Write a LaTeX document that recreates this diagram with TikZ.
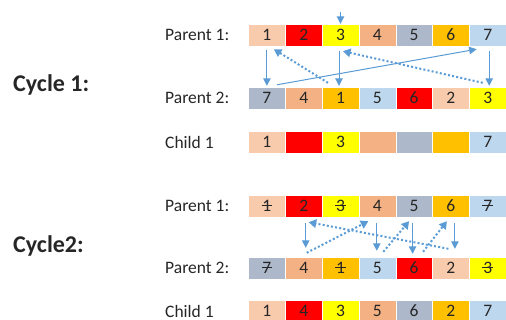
\documentclass[tikz,border=0pt]{standalone}
\usepackage{fontspec}
\setmainfont{Carlito}
\usetikzlibrary{arrows.meta}
\definecolor{cA}{HTML}{F8CBAD}
\definecolor{cB}{HTML}{FF0000}
\definecolor{cC}{HTML}{FFFF00}
\definecolor{cD}{HTML}{F4B183}
\definecolor{cE}{HTML}{ADB9CA}
\definecolor{cF}{HTML}{FFC000}
\definecolor{cG}{HTML}{BDD7EE}
\definecolor{arrowc}{HTML}{5B9BD5}
\definecolor{txt}{HTML}{262626}
\newcommand\strk[1]{\ooalign{#1\cr\hidewidth\rule[0.33em]{0.6em}{0.07em}\hidewidth\cr}}
\begin{document}
\begin{tikzpicture}[x=1pt,y=-1pt,
  every node/.style={text=txt, font=\fontsize{17.5}{20}\selectfont},
  cell/.style={draw=white, line width=0.4pt, minimum width=36.8pt, minimum height=22pt, inner sep=0pt, anchor=center},
  rowlabel/.style={anchor=west, inner sep=0pt},
  cyclabel/.style={anchor=west, inner sep=0pt, font=\fontsize{24}{28}\selectfont\bfseries},
  arr/.style={draw=arrowc, line width=1pt, -{Triangle[length=7.5pt,width=7.5pt]}},
  darr/.style={draw=arrowc, line width=2pt, dash pattern=on 2pt off 2.2pt, -{Triangle[length=7.5pt,width=8.5pt]}}]
\useasboundingbox (0,0) rectangle (506,320);
% cycle labels
\node[cyclabel] (cyc1) at (13,85) {Cycle 1:};
\node[cyclabel] (cyc2) at (13,246) {Cycle2:};
% row labels
\node[rowlabel] (l1) at (165,35) {Parent 1:};
\node[rowlabel] (l2) at (165,98) {Parent 2:};
\node[rowlabel] (l3) at (165,142) {Child 1};
\node[rowlabel] (l4) at (165,206) {Parent 1:};
\node[rowlabel] (l5) at (165,268) {Parent 2:};
\node[rowlabel] (l6) at (165,311) {Child 1};
% Cycle 1 rows
\foreach \i/\c/\t in {1/cA/1,2/cB/2,3/cC/3,4/cD/4,5/cE/5,6/cF/6,7/cG/7}
  \node[cell, fill=\c] (pa\i) at ({248.5+36.8*(\i-0.5)},35) {\t};
\foreach \i/\c/\t in {1/cE/7,2/cD/4,3/cF/1,4/cG/5,5/cB/6,6/cA/2,7/cC/3}
  \node[cell, fill=\c] (qa\i) at ({248.5+36.8*(\i-0.5)},98) {\t};
\foreach \i/\c/\t in {1/cA/1,2/cB/{},3/cC/3,4/cD/{},5/cE/{},6/cF/{},7/cG/7}
  \node[cell, fill=\c] (ra\i) at ({248.5+36.8*(\i-0.5)},142) {\t};
% Cycle 2 rows
\foreach \i/\c/\t in {1/cA/\strk{1},2/cB/2,3/cC/\strk{3},4/cD/4,5/cE/5,6/cF/6,7/cG/\strk{7}}
  \node[cell, fill=\c] (pb\i) at ({248.5+36.8*(\i-0.5)},206) {\t};
\foreach \i/\c/\t in {1/cE/\strk{7},2/cD/4,3/cF/\strk{1},4/cG/5,5/cB/6,6/cA/2,7/cC/\strk{3}}
  \node[cell, fill=\c] (qb\i) at ({248.5+36.8*(\i-0.5)},268) {\t};
\foreach \i/\c/\t in {1/cA/1,2/cB/4,3/cC/3,4/cD/5,5/cE/6,6/cF/2,7/cG/7}
  \node[cell, fill=\c] (rb\i) at ({248.5+36.8*(\i-0.5)},311) {\t};
% Cycle 1 arrows
\coordinate (start) at ([yshift=12pt]pa3.north);
\draw[arr] (start) -- (pa3.north);
\draw[arr] ([yshift=-4pt]pa1.south) -- ([yshift=1pt]qa1.north);
\draw[darr] ([xshift=-12.5pt,yshift=4pt]qa3.north) -- ([xshift=7pt,yshift=-3pt]pa1.south);
\draw[arr] ([xshift=-1.5pt,yshift=-5pt]pa3.south) -- ([xshift=-1.5pt,yshift=1pt]qa3.north);
\draw[arr] ([xshift=10pt,yshift=2pt]qa1.north) -- ([xshift=-11pt,yshift=-3pt]pa7.south);
\draw[darr] ([xshift=-5pt,yshift=4pt]qa7.north) -- ([xshift=2.5pt,yshift=-5pt]pa3.south);
\draw[arr] ([xshift=1.5pt,yshift=-5pt]pa7.south) -- ([xshift=1.5pt,yshift=1pt]qa7.north);
% Cycle 2 arrows
\draw[arr] ([xshift=2pt,yshift=-6pt]pb2.south) -- ([xshift=2pt,yshift=9pt]qb2.north);
\draw[darr] ([xshift=3pt,yshift=4pt]qb2.north) -- ([xshift=-9pt,yshift=-4pt]pb4.south);
\draw[darr] ([xshift=-2.5pt,yshift=8pt]qb6.north) -- ([xshift=5pt,yshift=-5pt]pb2.south);
\draw[arr] ([xshift=-0.5pt,yshift=-6pt]pb4.south) -- ([xshift=-0.5pt,yshift=6pt]qb4.north);
\draw[darr] ([xshift=6pt,yshift=5pt]qb4.north) -- ([xshift=-5pt,yshift=-4pt]pb5.south);
\draw[arr] ([xshift=-1.5pt,yshift=-6pt]pb5.south) -- ([xshift=-1.5pt,yshift=3pt]qb5.north);
\draw[darr] ([xshift=9pt,yshift=5pt]qb5.north) -- ([xshift=-4pt,yshift=-4pt]pb6.south);
\draw[arr] ([xshift=4pt,yshift=-6pt]pb6.south) -- ([xshift=4pt,yshift=8pt]qb6.north);
\end{tikzpicture}
\end{document}
